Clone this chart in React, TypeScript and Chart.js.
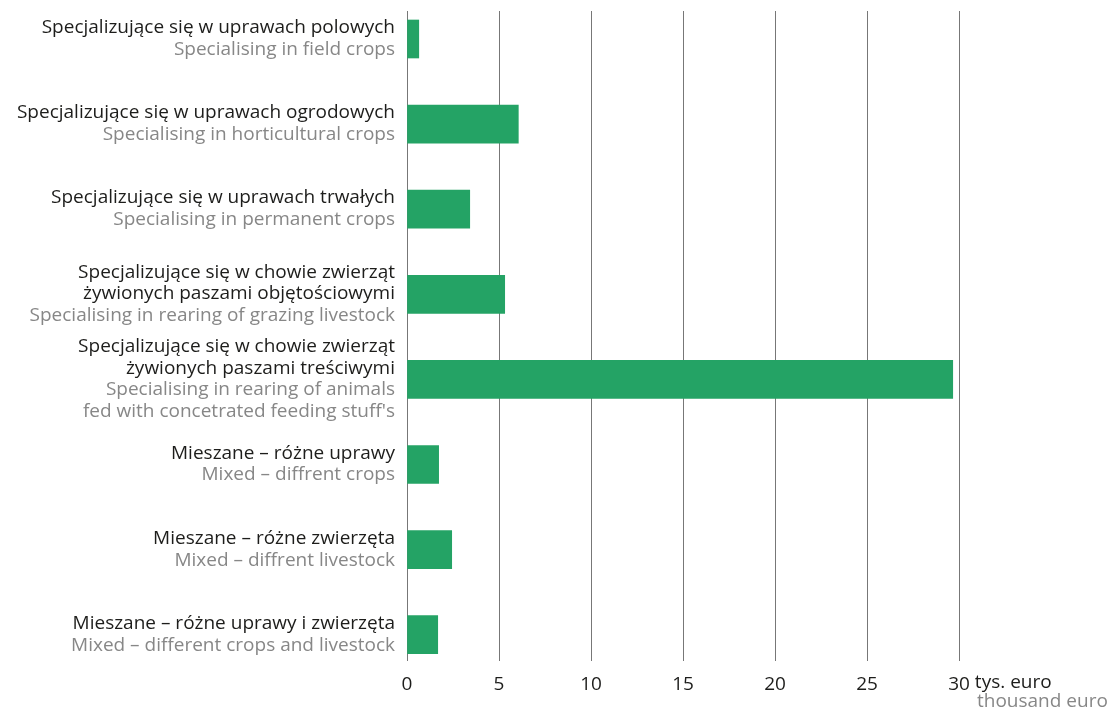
import React, { useEffect, useRef } from "react";
import { Chart, registerables } from "chart.js";

Chart.register(...registerables);

const labelsPL: string[][] = [
  ["Specjalizujące się w uprawach polowych"],
  ["Specjalizujące się w uprawach ogrodowych"],
  ["Specjalizujące się w uprawach trwałych"],
  ["Specjalizujące się w chowie zwierząt", "żywionych paszami objętościowymi"],
  ["Specjalizujące się w chowie zwierząt", "żywionych paszami treściwymi"],
  ["Mieszane – różne uprawy"],
  ["Mieszane – różne zwierzęta"],
  ["Mieszane – różne uprawy i zwierzęta"],
];

const labelsEN: string[][] = [
  ["Specialising in field crops"],
  ["Specialising in horticultural crops"],
  ["Specialising in permanent crops"],
  ["Specialising in rearing of grazing livestock"],
  ["Specialising in rearing of animals", "fed with concetrated feeding stuff's"],
  ["Mixed – diffrent crops"],
  ["Mixed – diffrent livestock"],
  ["Mixed – different crops and livestock"],
];

const values: number[] = [0.64, 6.05, 3.41, 5.31, 29.66, 1.72, 2.43, 1.67];

const xTicks: number[] = [0, 5, 10, 15, 20, 25, 30];
const unitPL = "tys. euro";
const unitEN = "thousand euro";

const FONT = "'Open Sans', 'Noto Sans', sans-serif";
const FONT_SIZE = 19;
const BLACK = "#1d1d1b";
const GRAY = "#878787";
const GREEN = "#24a365";

export default function App() {
  const ref = useRef<HTMLCanvasElement | null>(null);

  useEffect(() => {
    if (!ref.current) return;

    const labelPlugin = {
      id: "labelPlugin",
      afterDraw(chart: any) {
        const ctx = chart.ctx as CanvasRenderingContext2D;
        const yScale = chart.scales.y;
        const xScale = chart.scales.x;
        ctx.save();
        ctx.font = `${FONT_SIZE}px ${FONT}`;
        ctx.textAlign = "right";
        ctx.textBaseline = "alphabetic";
        const lh = 21.8;
        for (let i = 0; i < labelsPL.length; i++) {
          const cy = yScale.getPixelForValue(i);
          const lines = [
            ...labelsPL[i].map((t) => ({ t, c: BLACK })),
            ...labelsEN[i].map((t) => ({ t, c: GRAY })),
          ];
          const n = lines.length;
          lines.forEach((ln, k) => {
            ctx.fillStyle = ln.c;
            ctx.fillText(ln.t, 395, cy + 5 + (k - (n - 1) / 2) * lh);
          });
        }
        // unit next to last tick
        const last = xTicks[xTicks.length - 1];
        const px = xScale.getPixelForValue(last);
        const w = ctx.measureText(String(last)).width;
        ctx.textAlign = "left";
        ctx.fillStyle = BLACK;
        ctx.fillText(unitPL, px + w / 2 + 5, 688);
        ctx.fillStyle = GRAY;
        ctx.fillText(unitEN, px + 18, 707);
        ctx.restore();
      },
    };

    const chart = new Chart(ref.current, {
      type: "bar",
      data: {
        datasets: [
          {
            data: values.map((v, i) => ({ x: v, y: i })),
            backgroundColor: GREEN,
            borderWidth: 0,
            barThickness: 38,
          },
        ],
      },
      options: {
        indexAxis: "y",
        responsive: false,
        animation: false,
        layout: { padding: { left: 407, right: 150, top: 11, bottom: 0 } },
        plugins: {
          legend: { display: false },
          tooltip: { enabled: false },
        },
        scales: {
          y: {
            type: "linear",
            display: false,
            reverse: true,
            offset: false,
            grace: 0,
            min: -0.329,
            max: 7.309,
            grid: { offset: false },
          },
          x: {
            type: "linear",
            min: 0,
            max: 30,
            afterBuildTicks: (scale: any) => {
              scale.ticks = xTicks.map((v) => ({ value: v }));
            },
            afterFit: (scale: any) => {
              scale.height = 51;
            },
            grid: {
              color: "#777777",
              lineWidth: 1,
              drawTicks: false,
            },
            border: { display: false },
            ticks: {
              padding: 12,
              color: BLACK,
              font: { family: FONT, size: FONT_SIZE },
              maxRotation: 0,
              autoSkip: false,
            },
          },
        },
      },
      plugins: [labelPlugin],
    } as any);

    return () => chart.destroy();
  }, []);

  return (
    <div style={{ position: "absolute", left: 0, top: 0, width: 1109, height: 712, background: "#fff" }}>
      <canvas ref={ref} width={1109} height={712} style={{ display: "block" }} />
    </div>
  );
}
